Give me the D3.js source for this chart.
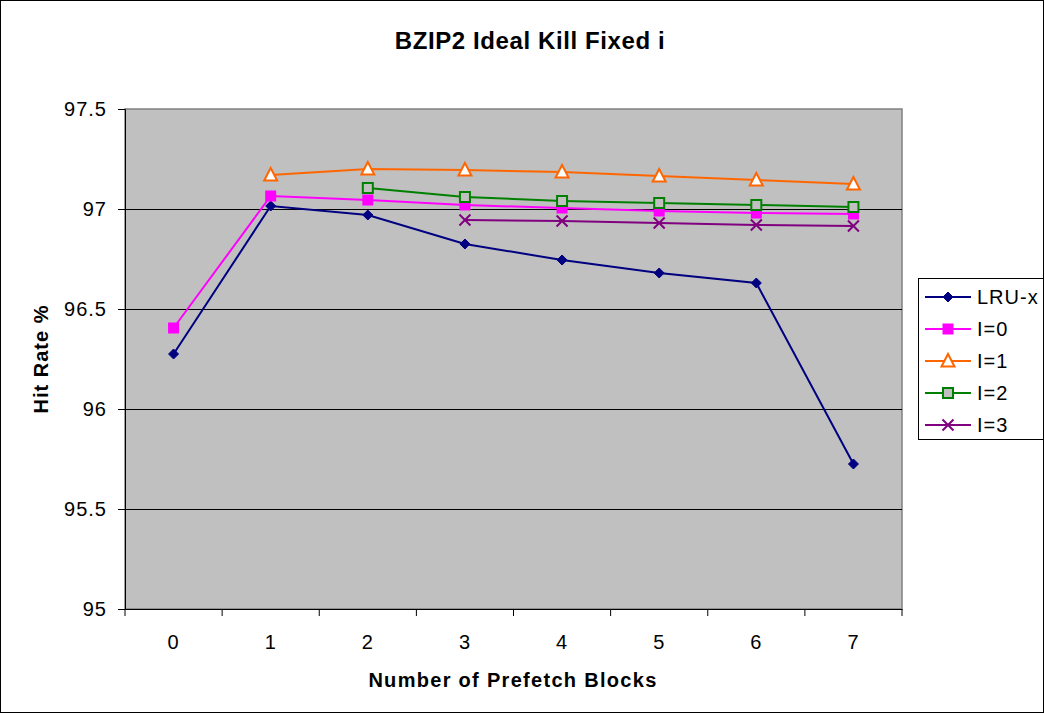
<!DOCTYPE html>
<html>
<head>
<meta charset="utf-8">
<script src="https://cdn.jsdelivr.net/npm/d3@7"></script>
<style>
  body { margin: 0; background: #fff; }
  text { font-family: "Liberation Sans", Arial, sans-serif; }
</style>
</head>
<body>
<script>
// chart data
var categories = [0, 1, 2, 3, 4, 5, 6, 7];
var lruX = [96.275, 97.015, 96.97, 96.825, 96.745, 96.68, 96.63, 95.725];
var i0 = [96.405, 97.065, 97.045, 97.02, 97.005, 96.99, 96.98, 96.975];
var i1 = [null, 97.17, 97.2, 97.195, 97.185, 97.165, 97.145, 97.125];
var i2 = [null, null, 97.105, 97.06, 97.04, 97.03, 97.02, 97.01];
var i3 = [null, null, null, 96.945, 96.94, 96.93, 96.92, 96.915];
var yTicks = [95, 95.5, 96, 96.5, 97, 97.5];

var series = [
  {name: "LRU-x", values: lruX, color: "#000080", marker: "diamond"},
  {name: "I=0", values: i0, color: "#FF00FF", marker: "square"},
  {name: "I=1", values: i1, color: "#FF6600", marker: "triangle"},
  {name: "I=2", values: i2, color: "#008000", marker: "hollowSquare"},
  {name: "I=3", values: i3, color: "#800080", marker: "cross"}
];

var width = 1045, height = 714;
var plotLeft = 125, plotRight = 902, plotTop = 109, plotBottom = 609;

var svg = d3.select("body").append("svg")
  .attr("width", width)
  .attr("height", height);

svg.append("rect")
  .attr("x", 0.5).attr("y", 0.5)
  .attr("width", width - 2).attr("height", height - 2)
  .style("fill", "white").style("stroke", "black");

var x = d3.scaleBand().domain(categories).range([plotLeft, plotRight]);
var y = d3.scaleLinear().domain([95, 97.5]).range([plotBottom, plotTop]);

// plot area
svg.append("rect")
  .attr("x", plotLeft).attr("y", plotTop)
  .attr("width", plotRight - plotLeft).attr("height", plotBottom - plotTop)
  .style("fill", "#C0C0C0").style("stroke", "#808080").style("stroke-width", 1.5);

svg.selectAll("line.grid")
  .data(yTicks.slice(1, -1))
  .enter().append("line")
  .attr("class", "grid")
  .attr("x1", plotLeft).attr("x2", plotRight)
  .attr("y1", function(d) { return Math.round(y(d)) + 0.5; })
  .attr("y2", function(d) { return Math.round(y(d)) + 0.5; })
  .style("stroke", "black");

var yAxis = svg.append("g")
  .attr("transform", "translate(" + plotLeft + ",0)")
  .call(d3.axisLeft(y).tickValues(yTicks).tickSize(7).tickPadding(11).tickFormat(d3.format("")));

var xAxis = svg.append("g")
  .attr("transform", "translate(0," + plotBottom + ")")
  .call(d3.axisBottom(x).tickSize(0));

xAxis.selectAll(".tick text").attr("y", 40).attr("dy", 0);

// tick marks between categories
xAxis.selectAll("line.sep")
  .data(categories.concat([8]))
  .enter().append("line")
  .attr("class", "sep")
  .attr("x1", function(d) { return d < 8 ? x(d) : plotRight; })
  .attr("x2", function(d) { return d < 8 ? x(d) : plotRight; })
  .attr("y1", 0).attr("y2", 7)
  .style("stroke", "black");

svg.selectAll(".domain").style("stroke", "black");
svg.selectAll(".tick text")
  .style("font-size", "20px")
  .style("letter-spacing", "1px")
  .style("font-family", "'Liberation Sans', Arial, sans-serif")
  .style("fill", "black");

// titles
svg.append("text")
  .attr("x", 530).attr("y", 49)
  .attr("text-anchor", "middle")
  .style("font-size", "24px").style("font-weight", "bold").style("letter-spacing", "0.6px")
  .text("BZIP2 Ideal Kill Fixed i");

svg.append("text")
  .attr("x", 513).attr("y", 687)
  .attr("text-anchor", "middle")
  .style("font-size", "20px").style("font-weight", "bold").style("letter-spacing", "1.3px")
  .text("Number of Prefetch Blocks");

svg.append("text")
  .attr("transform", "translate(48,359) rotate(-90)")
  .attr("text-anchor", "middle")
  .style("font-size", "20px").style("font-weight", "bold").style("letter-spacing", "1px")
  .text("Hit Rate %");

function drawMarker(g, type, color, cx, cy) {
  if (type == "diamond") {
    g.append("path")
      .attr("d", "M" + cx + "," + (cy - 5) + "L" + (cx + 5) + "," + cy + "L" + cx + "," + (cy + 5) + "L" + (cx - 5) + "," + cy + "Z")
      .style("fill", color).style("stroke", color);
  } else if (type == "square") {
    g.append("rect")
      .attr("x", cx - 5.5).attr("y", cy - 5.5).attr("width", 11).attr("height", 11)
      .style("fill", color);
  } else if (type == "triangle") {
    g.append("path")
      .attr("d", "M" + cx + "," + (cy - 7) + "L" + (cx + 6.5) + "," + (cy + 5.5) + "L" + (cx - 6.5) + "," + (cy + 5.5) + "Z")
      .style("fill", "white").style("stroke", color).style("stroke-width", 2);
  } else if (type == "hollowSquare") {
    g.append("rect")
      .attr("x", cx - 5).attr("y", cy - 5).attr("width", 10).attr("height", 10)
      .style("fill", "#C0C0C0").style("stroke", color).style("stroke-width", 2);
  } else if (type == "cross") {
    g.append("path")
      .attr("d", "M" + (cx - 5.5) + "," + (cy - 5.5) + "L" + (cx + 5.5) + "," + (cy + 5.5) + "M" + (cx + 5.5) + "," + (cy - 5.5) + "L" + (cx - 5.5) + "," + (cy + 5.5))
      .style("stroke", color).style("stroke-width", 2);
  }
}

var line = d3.line()
  .defined(function(d) { return d.v != null; })
  .x(function(d) { return x(d.c) + x.bandwidth() / 2; })
  .y(function(d) { return y(d.v); });

series.forEach(function(s) {
  var pts = categories.map(function(c, i) { return {c: c, v: s.values[i]}; });
  var g = svg.append("g");
  g.append("path")
    .attr("d", line(pts))
    .style("fill", "none").style("stroke", s.color).style("stroke-width", 2);
  pts.filter(function(d) { return d.v != null; }).forEach(function(d) {
    drawMarker(g, s.marker, s.color, x(d.c) + x.bandwidth() / 2, y(d.v));
  });
});

// legend
var legend = svg.append("g");
legend.append("rect")
  .attr("x", 918.5).attr("y", 278.5)
  .attr("width", 125).attr("height", 161)
  .style("fill", "white").style("stroke", "black");

series.forEach(function(s, i) {
  var ly = 297 + i * 32;
  legend.append("line")
    .attr("x1", 925).attr("x2", 971).attr("y1", ly).attr("y2", ly)
    .style("stroke", s.color).style("stroke-width", 2);
  drawMarker(legend, s.marker, s.color, 948, ly);
  legend.append("text")
    .attr("x", 977).attr("y", ly + 7)
    .style("font-size", "20px").style("letter-spacing", "1px")
    .text(s.name);
});
</script>
</body>
</html>
